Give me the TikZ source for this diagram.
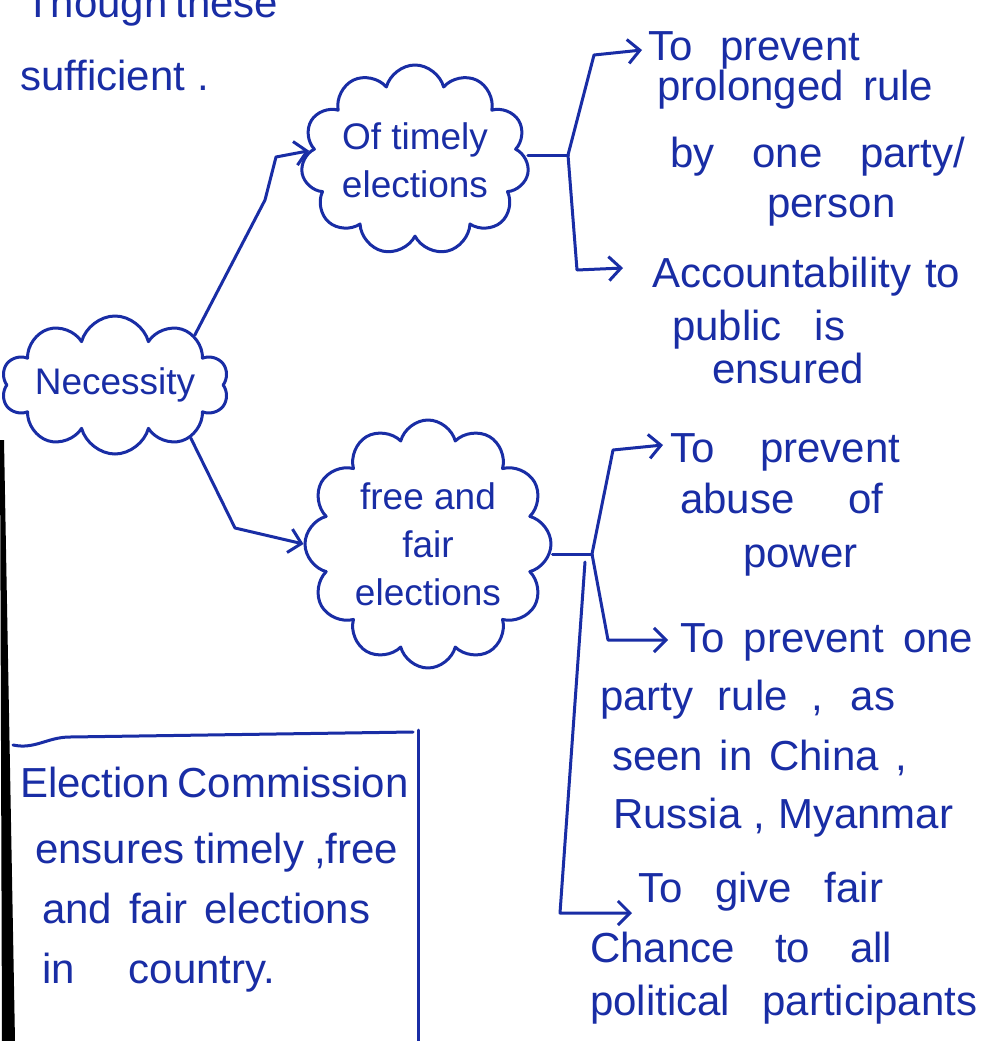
\documentclass[tikz,border=0pt]{standalone}
\usepackage{fontspec}
\setmainfont{Liberation Sans}
\usetikzlibrary{shapes.symbols,arrows.meta}
\definecolor{ink}{RGB}{25,45,165}
\newcommand{\hw}[2]{\makebox[#1][s]{#2}}
\tikzset{
  pen/.style={draw=ink, line width=3pt, line cap=round, line join=round},
  arr/.style={pen, -{Straight Barb[length=12pt,width=24pt,line width=3pt]}},
  txt/.style={anchor=base west, inner sep=0pt, text=ink, font=\fontsize{42}{48}\selectfont},
  cloudbox/.style={cloud, cloud ignores aspect, pen, text=ink, align=center,
     inner sep=0pt, font=\fontsize{37}{48}\selectfont},
}
\begin{document}
\begin{tikzpicture}[x=1pt,y=-1pt]
\useasboundingbox (0,0) rectangle (982,1041);
\clip (0,0) rectangle (982,1041);
\fill[white] (0,0) rectangle (982,1041);
% scan edge
\fill[black] (0,440) -- (4,440) -- (15,1041) -- (2,1041) -- cycle;

% top text
\node[txt] (th) at (25,18) {\hw{252pt}{Though these}};
\node[txt] (su) at (20,90) {sufficient\hspace{12pt}.};

% clouds
\node[cloudbox, cloud puffs=10, minimum width=194pt, minimum height=138pt] (nec) at (115,385) {Necessity};
\node[cloudbox, cloud puffs=11, minimum width=228pt, minimum height=190pt] (tim) at (415,160) {Of timely\\elections};
\node[cloudbox, cloud puffs=12, minimum width=246pt, minimum height=248pt] (fre) at (428,544) {free and\\fair\\elections};

% connectors from Necessity
\draw[arr] (nec.32) -- (265,200) -- (276,157) -- (tim.175);
\draw[arr] (nec.-35) -- (235,528) -- (fre.180);

% timely branches
\coordinate (tj) at (568,155);
\coordinate (a1) at (642,50);
\coordinate (a2) at (623,268);
\draw[pen] (tj -| tim.east) -- (tj);
\draw[arr] (tj) -- (594,55) -- (a1);
\draw[arr] (tj) -- (577,270) -- (a2);

\node[txt] (t1a) at (648,60) {\hw{212pt}{To prevent}};
\node[txt] (t1b) at (657,100) {\hw{276pt}{prolonged rule}};
\node[txt] (t1c) at (670,167) {\hw{295pt}{by one party/}};
\node[txt] (t1d) at (767,217) {person};

\node[txt] (t2a) at (652,287) {\hw{308pt}{Accountability to}};
\node[txt] (t2b) at (672,340) {\hw{173pt}{public is}};
\node[txt] (t2c) at (712,383) {ensured};

% free and fair branches
\coordinate (fj) at (592,554);
\coordinate (fk) at (585,562);
\coordinate (a3) at (663,445);
\coordinate (a4) at (668,640);
\coordinate (a5) at (632,913);
\draw[pen] (fj -| fre.east) -- (fj);
\draw[arr] (fj) -- (613,450) -- (a3);
\draw[arr] (fj) -- (608,640) -- (a4);
\draw[arr] (fk) -- (560,913) -- (a5);

\node[txt] (t3a) at (670,462) {\hw{230pt}{To prevent}};
\node[txt] (t3b) at (680,513) {\hw{203pt}{abuse of}};
\node[txt] (t3c) at (743,567) {power};

\node[txt] (t4a) at (680,652) {\hw{293pt}{To prevent one}};
\node[txt] (t4b) at (600,710) {\hw{295pt}{party rule , as}};
\node[txt] (t4c) at (612,770) {\hw{295pt}{seen in China ,}};
\node[txt] (t4d) at (613,828) {\hw{340pt}{Russia , Myanmar}};

\node[txt] (t5a) at (638,902) {\hw{245pt}{To give fair}};
\node[txt] (t5b) at (590,962) {\hw{302pt}{Chance to all}};
\node[txt] (t5c) at (590,1015) {\hw{387pt}{political participants}};

% box
\draw[pen] (13,745) to[out=-12,in=180] (70,737) -- (413,732);
\draw[pen] (418,730) -- (418,1045);
\node[txt] (b1) at (20,797) {\hw{355pt}{Election Commission}};
\node[txt] (b2) at (35,863) {\hw{363pt}{ensures timely ,free}};
\node[txt] (b3) at (42,923) {\hw{328pt}{and fair elections}};
\node[txt] (b4) at (42,983) {\hw{233pt}{in country.}};
\end{tikzpicture}
\end{document}
